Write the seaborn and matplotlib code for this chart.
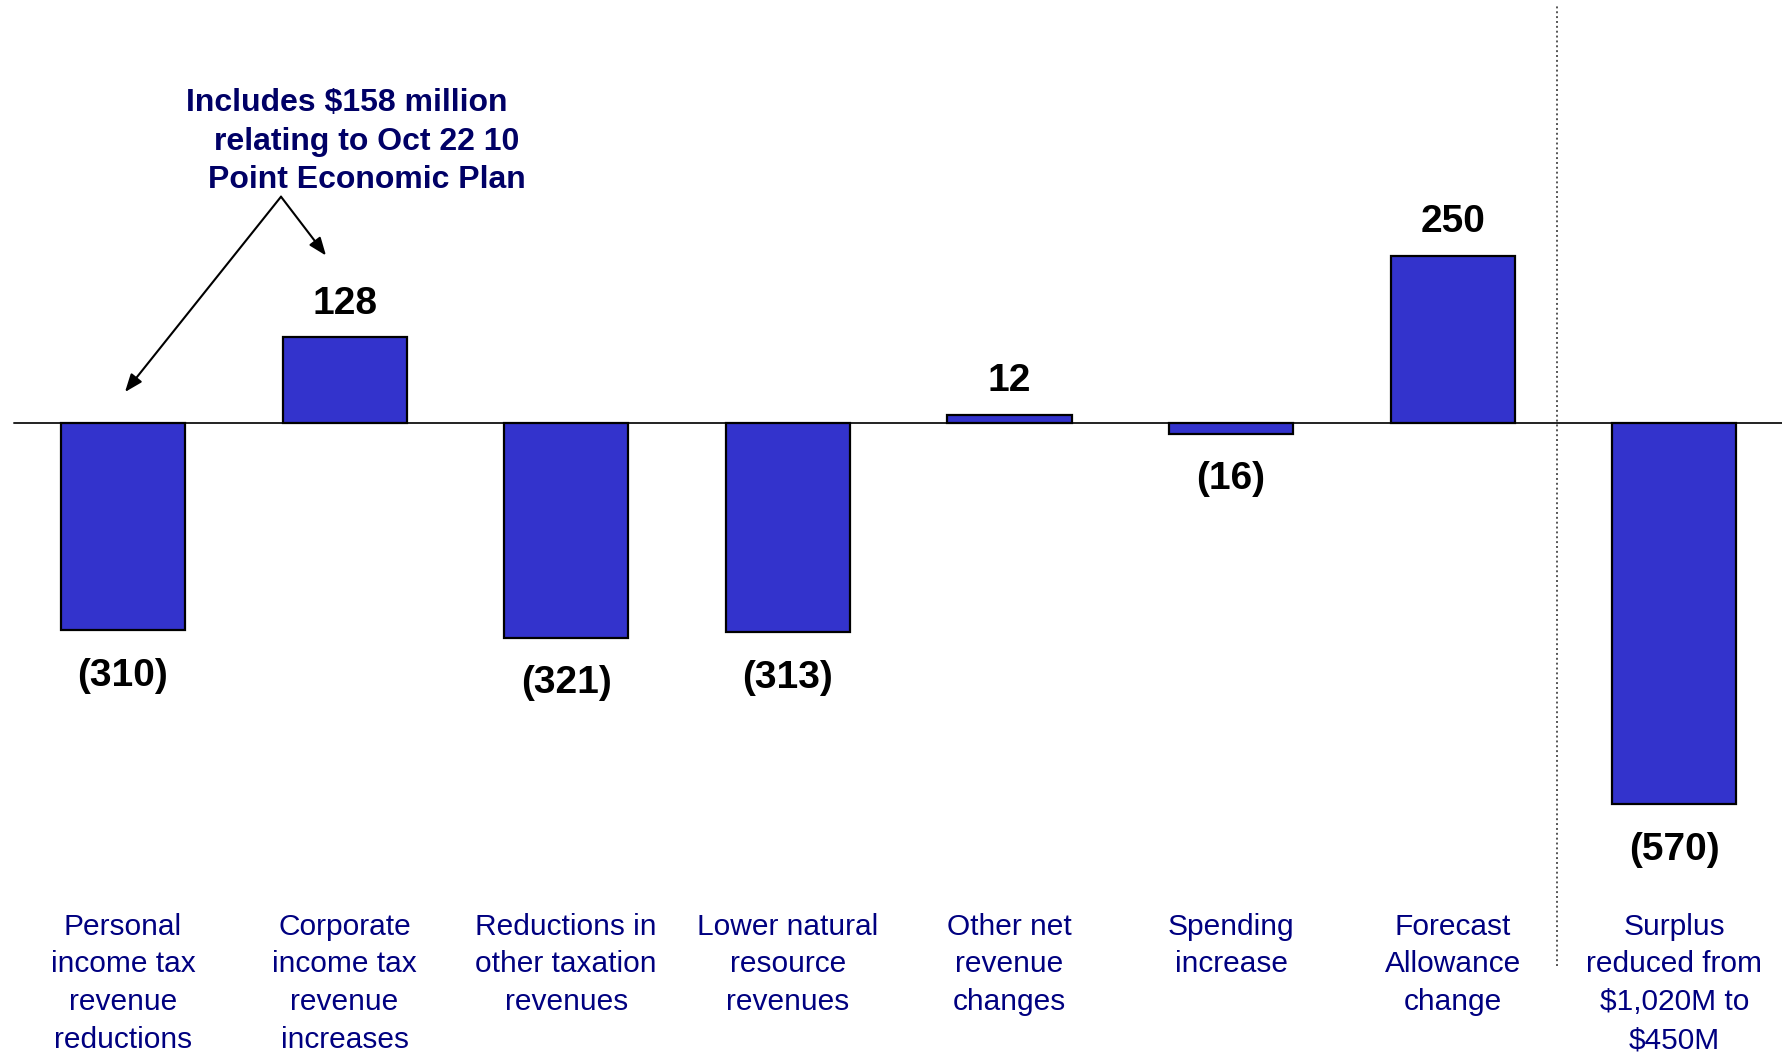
import numpy as np
import pandas as pd
import seaborn as sns
import matplotlib.pyplot as plt

# values in $ millions
categories = ["Personal\nincome tax\nrevenue\nreductions",
              "Corporate\nincome tax\nrevenue\nincreases",
              "Reductions in\nother taxation\nrevenues",
              "Lower natural\nresource\nrevenues",
              "Other net\nrevenue\nchanges",
              "Spending\nincrease",
              "Forecast\nAllowance\nchange",
              "Surplus\nreduced from\n$1,020M to\n$450M"]
values = [-310, 128, -321, -313, 12, -16, 250, -570]
note_lines = ["Includes $158 million", "relating to Oct 22 10", "Point Economic Plan"]

sns.set_theme(style="white")
plt.rcParams['font.family'] = ['Liberation Sans', 'DejaVu Sans']

df = pd.DataFrame({"cat": categories, "val": values})

fig = plt.figure(figsize=(17.82, 10.53), dpi=100)
ax = fig.add_axes([0, 0, 1, 1])

sns.barplot(data=df, x="cat", y="val", color="#3333CC", saturation=1,
            edgecolor="black", linewidth=1.6, width=0.56, ax=ax)

ax.set_xlim(-0.555, 7.486)
ax.set_ylim(-942, 632)
ax.axis("off")

# zero line
ax.axhline(0, xmin=14 / 1782, xmax=1, color="#222222", lw=1.4, zorder=0.5)
# separator before the total
ax.plot([6.47, 6.47], [-812, 623], color="#555555", lw=1.4, ls=(0, (1, 1.5)))

# value labels
for i, v in enumerate(values):
    if v >= 0:
        ax.text(i, v + 50, str(v), ha="center", va="center",
                fontsize=28, fontweight="bold", color="black")
    else:
        ax.text(i, v - 68, "(%d)" % -v, ha="center", va="center",
                fontsize=28, fontweight="bold", color="black")

# category labels
for i, c in enumerate(categories):
    ax.text(i, -732, c, ha="center", va="top", fontsize=21.5,
            color="#000080", linespacing=1.45)

# note with arrows
note_x = [1.01, 1.10, 1.10]
note_y = [478, 420, 363]
for x, y, t in zip(note_x, note_y, note_lines):
    ax.text(x, y, t, ha="center", va="center", fontsize=23,
            fontweight="bold", color="#000066")

apex = (0.713, 338)
for tip in [(0.009, 46), (0.916, 250)]:
    ax.annotate("", xy=tip, xytext=apex,
                arrowprops=dict(arrowstyle="-|>,head_length=0.9,head_width=0.35",
                                color="black", lw=1.5, shrinkA=0, shrinkB=0))

fig.savefig("out.png", dpi=100)
